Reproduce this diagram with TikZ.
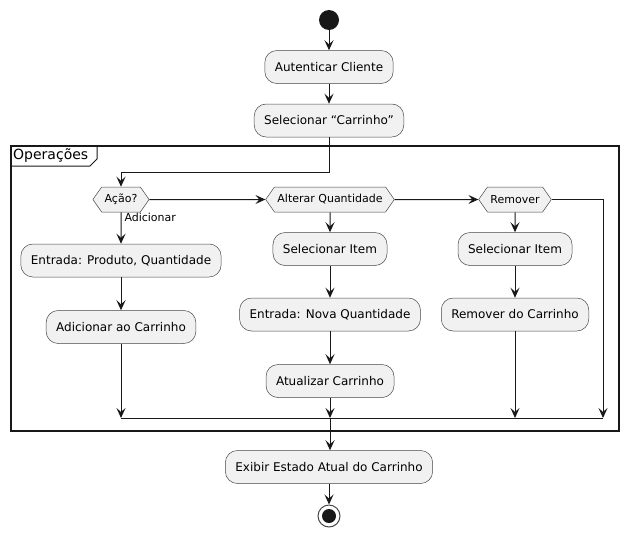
\documentclass[tikz,border=0pt]{standalone}
\usepackage{fontspec}
\setmainfont{DejaVu Sans}
\usetikzlibrary{arrows.meta,shapes.symbols}

\definecolor{umlfill}{HTML}{F1F1F1}
\definecolor{umlline}{HTML}{181818}

\begin{document}
\begin{tikzpicture}[x=1pt, y=-1pt,
  act/.style={rectangle, rounded corners=12pt, draw=umlline!80, line width=0.5pt, fill=umlfill, minimum height=33pt, inner xsep=10pt, font=\fontsize{12}{14}\selectfont},
  choice/.style={signal, signal to=east and west, signal pointer angle=110, draw=umlline!80, line width=0.5pt, fill=umlfill, minimum height=25pt, inner xsep=3pt, inner ysep=2pt, font=\fontsize{11}{13}\selectfont},
  flow/.style={line width=1pt, draw=umlline, -{Stealth[length=10pt,width=9pt,inset=4pt]}},
  link/.style={line width=1pt, draw=umlline}]
  \useasboundingbox (0,0) rectangle (628,536);

  % frame of the partition
  \draw[line width=1.5pt, umlline] (11,146) rectangle (619,431);
  \draw[line width=1pt, umlline] (11,166) -- (90,166) -- (97,159) -- (97,146);
  \node (optitle) [anchor=west, inner sep=0pt, font=\fontsize{14}{16}\selectfont] at (13,156) {Operações};

  \node (start) [circle, fill=umlline, minimum size=20pt, inner sep=0pt] at (329,20) {};
  \node (aut) [act] at (329,67) {Autenticar Cliente};
  \node (selcar) [act] at (329,120.5) {Selecionar “Carrinho”};

  \node (acao) [choice] at (121,199.5) {Ação?};
  \node (alt) [choice] at (330,199.5) {Alterar Quantidade};
  \node (rem) [choice] at (515,199.5) {Remover};

  \node (entp) [act] at (121,260.5) {Entrada: Produto, Quantidade};
  \node (add) [act] at (121,327) {Adicionar ao Carrinho};

  \node (selit) [act] at (330,249) {Selecionar Item};
  \node (entn) [act] at (330,314.5) {Entrada: Nova Quantidade};
  \node (atu) [act] at (330,381) {Atualizar Carrinho};

  \node (selitr) [act] at (515,249) {Selecionar Item};
  \node (remc) [act] at (515,314.5) {Remover do Carrinho};

  \node (exib) [act] at (329,467) {Exibir Estado Atual do Carrinho};
  \node (stop) [circle, draw=umlline!80, line width=1pt, minimum size=22pt, inner sep=0pt] at (329,516) {};
  \node (stopdot) [circle, fill=umlline, minimum size=14pt, inner sep=0pt] at (stop) {};

  \coordinate (split) at (329,172);
  \coordinate (mergeL) at (121,418);
  \coordinate (mergeM) at (330,418);
  \coordinate (mergeRm) at (515,418);
  \coordinate (mergeR) at (603,418);

  \draw[flow] (start) -- (aut);
  \draw[flow] (aut) -- (selcar);
  \draw[flow] (selcar) -- (split) -| (acao);
  \draw[flow] (acao) -- (alt);
  \draw[flow] (alt) -- (rem);
  \draw[flow] (rem) -| (mergeR);

  \draw[flow] (acao) -- node[pos=0.15, anchor=west, inner sep=3pt, font=\fontsize{11}{13}\selectfont] {Adicionar} (entp);
  \draw[flow] (entp) -- (add);
  \draw[flow] (add) -- (mergeL);

  \draw[flow] (alt) -- (selit);
  \draw[flow] (selit) -- (entn);
  \draw[flow] (entn) -- (atu);
  \draw[flow] (atu) -- (mergeM);

  \draw[flow] (rem) -- (selitr);
  \draw[flow] (selitr) -- (remc);
  \draw[flow] (remc) -- (mergeRm);

  \draw[link] (mergeL) -- (mergeR);
  \draw[flow] (mergeM) -- (exib.north -| mergeM);
  \draw[flow] (exib) -- (stop);
\end{tikzpicture}
\end{document}
